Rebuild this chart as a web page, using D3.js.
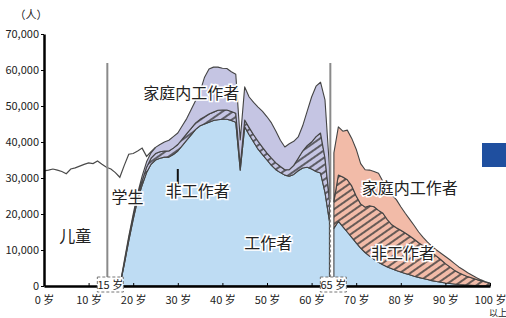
<!DOCTYPE html>
<html>
<head>
<meta charset="utf-8">
<script src="https://cdn.jsdelivr.net/npm/d3@7"></script>
<style>
body { margin: 0; background: #fff; }
text { font-family: "Noto Sans CJK SC", "Noto Sans", sans-serif; }
</style>
</head>
<body>
<script>
// ---- data (persons by age) ----
const ageTicks = [0, 10, 20, 30, 40, 50, 60, 70, 80, 90, 100];
const valueTicks = [0, 10000, 20000, 30000, 40000, 50000, 60000, 70000];

// children + students: total population line, ages 0-25
const youngAges = d3.range(0, 26);
const youngTotal = [32000, 32200, 32500, 32200, 31800, 31200, 32500, 32800, 33300, 33800,
  34200, 34000, 34700, 33800, 33000, 32500, 31500, 30200, 33500, 36600,
  36800, 37500, 38300, 36000, 37300, 38500];

// working age 17-64
const agesA = d3.range(17, 65);
const workersA = [0, 6000, 12500, 18500, 24000, 28000, 31500, 33800, 35000, 35500,
  35800, 35800, 36500, 37500, 39000, 40500, 42000, 43500, 44500, 45000,
  45500, 46000, 46200, 46300, 46300, 46000, 45500, 32200, 44200, 42000,
  40000, 38000, 36500, 35000, 33500, 32300, 31500, 30800, 30500, 31000,
  32000, 32800, 33000, 32500, 31800, 31400, 26000, 18000];
const nonWorkersA = [0, 500, 700, 800, 1000, 1200, 1500, 1700, 1800, 1800,
  1700, 1700, 1800, 1800, 1800, 1800, 1800, 1800, 1800, 2000,
  2300, 2300, 2600, 2600, 2600, 2500, 2500, 1300, 1900, 2000,
  2000, 2200, 2000, 1900, 2000, 1900, 1700, 1500, 1800, 2500,
  3500, 4700, 6000, 7500, 9700, 11100, 9500, 6000];
const domesticA = [0, 500, 600, 700, 800, 1300, 1500, 1500, 1700, 2000,
  2500, 3000, 3200, 3200, 3700, 4200, 5200, 6200, 7700, 11000,
  12500, 12500, 12000, 11600, 11500, 11000, 10800, 7100, 9200, 8500,
  9000, 9500, 10000, 10100, 9800, 8800, 7300, 6300, 7200, 6700,
  5900, 7000, 9500, 12500, 14000, 14100, 16200, 9000];

// elderly 65-100+
const agesB = d3.range(65, 101);
const workersB = [16000, 18000, 16500, 15000, 13500, 12000, 10500, 9300, 8300, 7400,
  6600, 5900, 5300, 4800, 4300, 3900, 3500, 3100, 2700, 2400,
  2100, 1800, 1500, 1250, 1050, 850, 700, 550, 420, 320,
  240, 180, 130, 90, 60, 40];
const nonWorkersB = [7500, 12800, 13800, 14500, 14300, 13000, 12300, 12600, 14000, 14600,
  14400, 14300, 13100, 12200, 11900, 11600, 11200, 10800, 10300, 9600,
  9100, 8500, 7800, 7050, 6250, 5350, 4600, 3850, 3280, 2780,
  2360, 2020, 1670, 1310, 1040, 660];
const domesticB = [13500, 13400, 12700, 13800, 13200, 13000, 11200, 10400, 9900, 9800,
  10300, 8800, 8600, 8300, 7800, 6500, 5500, 4600, 3800, 3000,
  2300, 1900, 1700, 1700, 1800, 2000, 2000, 1900, 1600, 1400,
  1100, 800, 500, 300, 100, 100];

const W = 506, H = 318;
const svg = d3.select("body").append("svg").attr("width", W).attr("height", H);

const x = d3.scaleLinear([0, 100], [44, 490]);
const y = d3.scaleLinear([0, 70000], [286, 34]);

const defs = svg.append("defs");
const hatch = (id, bg) => {
  const p = defs.append("pattern")
    .attr("id", id)
    .attr("patternUnits", "userSpaceOnUse")
    .attr("width", 6).attr("height", 6)
    .attr("patternTransform", "rotate(55)");
  p.append("rect").attr("width", 6).attr("height", 6).attr("fill", bg);
  p.append("line").attr("x1", 3).attr("x2", 3).attr("y1", 0).attr("y2", 6)
    .attr("stroke", "#3a3a3a").attr("stroke-width", 1.5);
};
hatch("hatchA", "#c5c5e3");
hatch("hatchB", "#f2bba8");

const stack = d3.stack().keys(["w", "n", "d"]);
const area = d3.area()
  .x(d => x(d.data.age))
  .y0(d => y(d[0]))
  .y1(d => y(d[1]));

const drawGroup = (ages, ws, ns, ds, fills) => {
  const rows = ages.map((a, i) => ({ age: a, w: ws[i], n: ns[i], d: ds[i] }));
  svg.append("g").selectAll("path")
    .data(stack(rows))
    .join("path")
    .attr("d", area)
    .attr("fill", (d, i) => fills[i])
    .attr("stroke", "#444")
    .attr("stroke-width", 1.1)
    .attr("stroke-linejoin", "round");
};
drawGroup(agesA, workersA, nonWorkersA, domesticA, ["#bedcf3", "url(#hatchA)", "#c5c5e3"]);
drawGroup(agesB, workersB, nonWorkersB, domesticB, ["#bedcf3", "url(#hatchB)", "#f2bba8"]);

// children / students line
svg.append("path")
  .datum(youngAges.map((a, i) => [a, youngTotal[i]]))
  .attr("fill", "none")
  .attr("stroke", "#4a4a4a")
  .attr("stroke-width", 1.2)
  .attr("d", d3.line().x(d => x(d[0])).y(d => y(d[1])));

// age boundaries
const bounds = [{ age: 14.2, label: "15 岁", dashFrom: 286 }, { age: 64.2, label: "65 岁", dashFrom: y(24000) }];
bounds.forEach(b => {
  const bx = x(b.age);
  svg.append("line").attr("x1", bx).attr("x2", bx).attr("y1", 63).attr("y2", b.dashFrom)
    .attr("stroke", "#8a8a8a").attr("stroke-width", 2);
  svg.append("line").attr("x1", bx).attr("x2", bx).attr("y1", b.dashFrom).attr("y2", 278)
    .attr("stroke", "#8a8a8a").attr("stroke-width", 1.5).attr("stroke-dasharray", "3,2");
});

// axes
const yAxis = svg.append("g")
  .attr("transform", "translate(44,0)")
  .call(d3.axisLeft(y).tickValues(valueTicks).tickFormat(d3.format(",")).tickSizeInner(3).tickSizeOuter(0).tickPadding(2));
yAxis.select(".domain").attr("stroke", "#000").attr("stroke-width", 2.5);
yAxis.selectAll("text").attr("font-size", 11).attr("fill", "#222");

const xAxis = svg.append("g")
  .attr("transform", "translate(0,286)")
  .call(d3.axisBottom(x).tickValues(ageTicks).tickFormat(d => d + " 岁").tickSizeInner(-3).tickSizeOuter(0).tickPadding(10));
xAxis.select(".domain").attr("stroke", "#000").attr("stroke-width", 2.5);
xAxis.selectAll("text").attr("font-size", 11).attr("fill", "#222");

svg.append("text").attr("x", x(100) + 8).attr("y", 315.6).attr("text-anchor", "middle")
  .attr("font-size", 9).attr("fill", "#222").text("以上");
svg.append("text").attr("x", 31).attr("y", 19).attr("text-anchor", "middle")
  .attr("font-size", 11).attr("fill", "#222").text("（人）");

// boundary boxes
bounds.forEach(b => {
  const g = svg.append("g").attr("transform", `translate(${x(b.age) + 3},285)`);
  g.append("rect").attr("x", -13).attr("y", -8).attr("width", 26).attr("height", 15)
    .attr("fill", "#fff").attr("stroke", "#777").attr("stroke-dasharray", "3,2");
  g.append("text").attr("y", 4).attr("text-anchor", "middle").attr("font-size", 11)
    .attr("fill", "#222").text(b.label);
});

// pointer for non-workers
svg.append("line").attr("x1", x(30)).attr("x2", x(30)).attr("y1", y(32500)).attr("y2", y(27800))
  .attr("stroke", "#111").attr("stroke-width", 2);

// labels
const labels = [
  { t: "家庭内工作者", age: 33, v: 53500 },
  { t: "非工作者", age: 34.5, v: 26300 },
  { t: "工作者", age: 50.3, v: 11900 },
  { t: "学生", age: 18.7, v: 24700 },
  { t: "儿童", age: 7, v: 13700 },
  { t: "家庭内工作者", age: 82, v: 27000 },
  { t: "非工作者", age: 80.5, v: 9000 }
];
svg.append("g").selectAll("text")
  .data(labels)
  .join("text")
  .attr("x", d => x(d.age))
  .attr("y", d => y(d.v))
  .attr("dy", "0.35em")
  .attr("text-anchor", "middle")
  .attr("font-size", 16)
  .attr("fill", "#222")
  .attr("stroke", "#fff")
  .attr("stroke-width", 3)
  .attr("paint-order", "stroke")
  .text(d => d.t);

// blue marker at right edge
svg.append("rect").attr("x", 482).attr("y", 143).attr("width", 30).attr("height", 24).attr("fill", "#1f4f9f");
</script>
</body>
</html>
